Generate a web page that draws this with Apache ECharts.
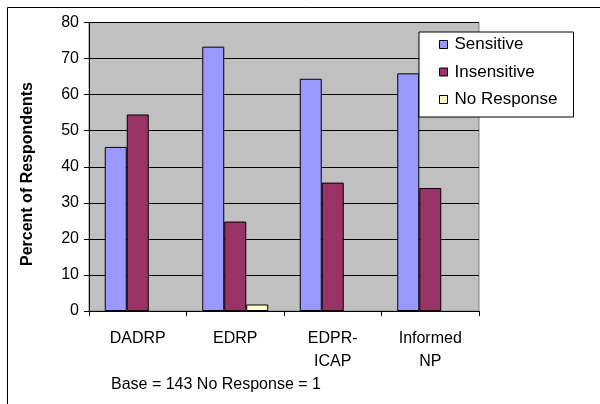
<!DOCTYPE html>
<html>
<head>
<meta charset="utf-8">
<script src="https://cdn.jsdelivr.net/npm/echarts@6/dist/echarts.min.js"></script>
<style>html,body{margin:0;padding:0;background:#fff}#c{width:600px;height:404px}</style>
</head>
<body>
<div id="c"></div>
<script>
const categories = ['DADRP', 'EDRP', 'EDPR-\nICAP', 'Informed\nNP'];
const sensitive = [45.5, 73.3, 64.4, 65.9];
const insensitive = [54.5, 24.8, 35.6, 34.1];
const noResponse = [0, 1.8, 0, 0];
const yTicks = [0, 10, 20, 30, 40, 50, 60, 70, 80];
const footnote = 'Base = 143 No Response = 1';
const yTitle = 'Percent of Respondents';

const font = 'Arial, "Liberation Sans", sans-serif';
const chart = echarts.init(document.getElementById('c'), null, {renderer: 'canvas'});
const bar = (name, data, color) => ({
  name, type: 'bar', barWidth: 22, barGap: '0%',
  data: data.map(v => v === 0 ? {value: 0, itemStyle: {borderWidth: 0}} : v),
  itemStyle: {color, borderColor: '#000', borderWidth: 1},
  emphasis: {disabled: true}
});
chart.setOption({
  animation: false,
  backgroundColor: '#fff',
  grid: {left: 89, top: 22.5, right: 121, bottom: 93, show: true, backgroundColor: '#C0C0C0', borderColor: '#808080', borderWidth: 1},
  legend: {
    orient: 'vertical', left: 419, top: 32,
    padding: [4, 16, 9, 20],
    backgroundColor: '#fff', borderColor: '#000', borderWidth: 1,
    itemWidth: 8, itemHeight: 8, itemGap: 10.5,
    icon: 'rect',
    textStyle: {fontFamily: font, fontSize: 17, color: '#000', padding: [0, 0, 0, 2]},
    data: ['Sensitive', 'Insensitive', 'No Response'],
    itemStyle: {borderColor: '#000', borderWidth: 1}
  },
  xAxis: {
    type: 'category', data: categories,
    axisLine: {lineStyle: {color: '#000', width: 1}},
    axisTick: {show: true, length: 5, inside: false, lineStyle: {color: '#000'}},
    axisLabel: {fontFamily: font, fontSize: 16, color: '#000', margin: 16, lineHeight: 23},
    splitLine: {show: false}
  },
  yAxis: {
    type: 'value', min: yTicks[0], max: yTicks[yTicks.length - 1], interval: 10,
    axisLine: {show: true, lineStyle: {color: '#000', width: 1}},
    axisTick: {show: true, length: 5, lineStyle: {color: '#000'}},
    axisLabel: {fontFamily: font, fontSize: 16, color: '#000', margin: 10},
    splitLine: {show: true, lineStyle: {color: '#000', width: 1}}
  },
  graphic: [
    {type: 'rect', shape: {x: 7.5, y: 7.5, width: 800, height: 600}, style: {fill: null, stroke: '#000', lineWidth: 1}, z: 100},
    {type: 'text', x: 28, y: 174, rotation: Math.PI / 2,
     style: {text: yTitle, font: 'bold 16px ' + font, fill: '#000', align: 'center', verticalAlign: 'middle'}},
    {type: 'text', x: 111, y: 385,
     style: {text: footnote, font: '16px ' + font, fill: '#000', align: 'left', verticalAlign: 'middle'}}
  ],
  series: [
    bar('Sensitive', sensitive, '#9999FF'),
    bar('Insensitive', insensitive, '#993366'),
    bar('No Response', noResponse, '#FFFFCC')
  ]
});
</script>
</body>
</html>
